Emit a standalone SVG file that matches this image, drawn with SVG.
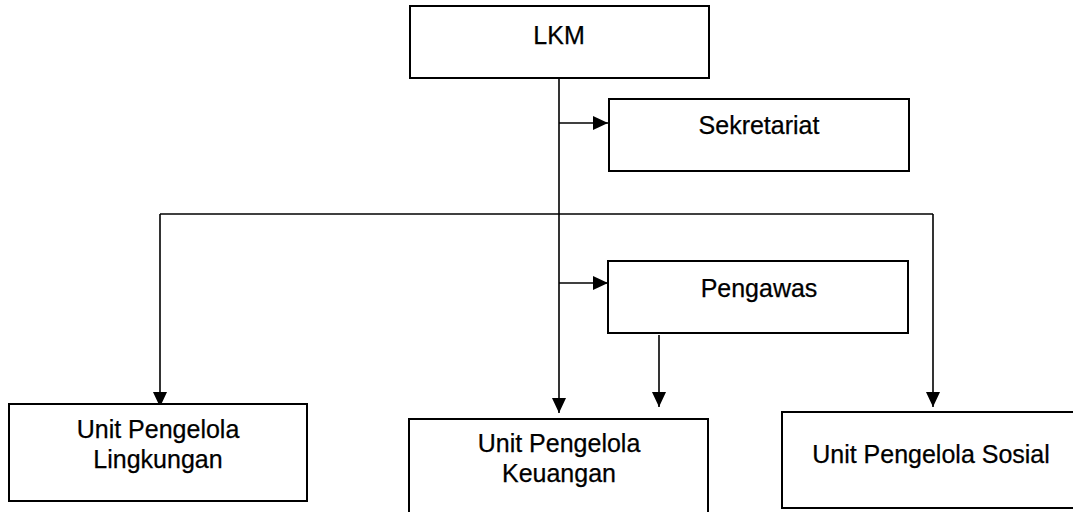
<svg xmlns="http://www.w3.org/2000/svg" width="1073" height="512" viewBox="0 0 1073 512">
  <style>
    .box { fill: #ffffff; stroke: #000000; stroke-width: 2; }
    .lbl { font-family: "Liberation Sans", Arial, sans-serif; font-size: 25px; fill: #000000; text-anchor: middle; stroke: #000000; stroke-width: 0.25; }
    .conn { fill: none; stroke: #000000; stroke-width: 1.6; }
  </style>
  <defs>
    <marker id="arrow" markerUnits="userSpaceOnUse" markerWidth="16" markerHeight="16" viewBox="0 0 16 16" refX="15" refY="8" orient="auto">
      <path d="M0,1 L15,8 L0,15 Z" fill="#000000"/>
    </marker>
  </defs>
  <rect width="1073" height="512" fill="#ffffff"/>

  <g id="connectors">
    <path class="conn" d="M559,78 V413" marker-end="url(#arrow)"/>
    <path class="conn" d="M559,123 H608" marker-end="url(#arrow)"/>
    <path class="conn" d="M559,283 H608" marker-end="url(#arrow)"/>
    <path class="conn" d="M160,214 H933"/>
    <path class="conn" d="M160,214 V407" marker-end="url(#arrow)"/>
    <path class="conn" d="M933,214 V407" marker-end="url(#arrow)"/>
    <path class="conn" d="M659,335 V407" marker-end="url(#arrow)"/>
  </g>

  <g id="node-lkm">
    <rect class="box" x="410" y="6" width="299" height="72"/>
    <text class="lbl" x="559" y="44">LKM</text>
  </g>
  <g id="node-sekretariat">
    <rect class="box" x="609" y="99" width="300" height="72"/>
    <text class="lbl" x="759" y="134">Sekretariat</text>
  </g>
  <g id="node-pengawas">
    <rect class="box" x="608" y="261" width="300" height="72"/>
    <text class="lbl" x="759" y="297">Pengawas</text>
  </g>
  <g id="node-lingkungan">
    <rect class="box" x="9" y="404" width="298" height="97"/>
    <text class="lbl" x="158" y="438">Unit Pengelola</text>
    <text class="lbl" x="158" y="468">Lingkungan</text>
  </g>
  <g id="node-keuangan">
    <rect class="box" x="409" y="419" width="299" height="110"/>
    <text class="lbl" x="559" y="452">Unit Pengelola</text>
    <text class="lbl" x="559" y="482">Keuangan</text>
  </g>
  <g id="node-sosial">
    <rect class="box" x="782" y="412" width="300" height="96"/>
    <text class="lbl" x="931" y="463">Unit Pengelola Sosial</text>
  </g>
</svg>
